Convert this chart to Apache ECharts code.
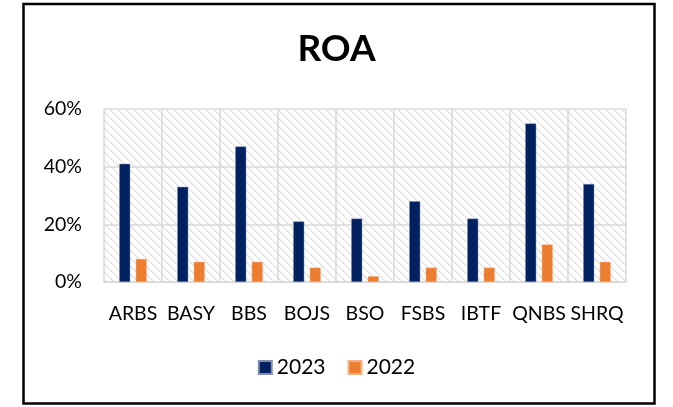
<!DOCTYPE html>
<html>
<head>
<meta charset="utf-8">
<script src="https://cdn.jsdelivr.net/npm/echarts@6/dist/echarts.min.js"></script>
<style>
  html, body { margin: 0; padding: 0; background: #fff; }
  #chart { width: 673px; height: 407px; }
</style>
</head>
<body>
<div id="chart"></div>
<script>
// Return on assets by bank, 2023 vs 2022 (percent)
const banks = ['ARBS', 'BASY', 'BBS', 'BOJS', 'BSO', 'FSBS', 'IBTF', 'QNBS', 'SHRQ'];
const roa2023 = [41, 33, 47, 21, 22, 28, 22, 55, 34];
const roa2022 = [8, 7, 7, 5, 2, 5, 5, 13, 7];
const yTicks = [0, 20, 40, 60];

// Light grey downward-diagonal hatch for the plot area
function hatchTile() {
  const c = document.createElement('canvas');
  c.width = 8; c.height = 8;
  const ctx = c.getContext('2d');
  ctx.fillStyle = '#ffffff';
  ctx.fillRect(0, 0, 8, 8);
  for (let i = 0; i < 8; i++) {
    ctx.fillStyle = i % 2 ? '#d8d8d8' : '#e4e4e4';
    ctx.fillRect(i, i, 1, 1);
    ctx.fillStyle = '#eeeeee';
    ctx.fillRect((i + 1) % 8, i, 1, 1);
  }
  return c;
}

const FONT = 'Lato, "Open Sans", sans-serif';
const chart = echarts.init(document.getElementById('chart'));
chart.setOption({
  animation: false,
  backgroundColor: '#ffffff',
  title: {
    text: 'ROA',
    left: 'center',
    top: 26,
    textStyle: { fontFamily: FONT, fontWeight: 'bold', fontSize: 37, color: '#000' }
  },
  grid: {
    left: 104, right: 47, top: 109, bottom: 125,
    show: true,
    backgroundColor: { image: hatchTile(), repeat: 'repeat' },
    borderWidth: 0
  },
  legend: {
    data: ['2023', '2022'],
    bottom: 24,
    left: 'center',
    icon: 'rect',
    itemWidth: 13,
    itemHeight: 13,
    itemGap: 22,
    textStyle: { fontFamily: FONT, fontSize: 21, color: '#000' }
  },
  xAxis: {
    type: 'category',
    data: banks,
    axisLine: { show: true, lineStyle: { color: '#d9d9d9', width: 1.5 } },
    axisTick: { show: false },
    splitLine: { show: true, lineStyle: { color: '#d9d9d9', width: 1.5 } },
    axisLabel: { fontFamily: FONT, fontSize: 19.5, color: '#000', margin: 22, interval: 0 }
  },
  yAxis: {
    type: 'value',
    min: yTicks[0],
    max: yTicks[yTicks.length - 1],
    interval: yTicks[1] - yTicks[0],
    axisLine: { show: false },
    axisTick: { show: false },
    splitLine: { show: true, lineStyle: { color: '#d9d9d9', width: 1.5 } },
    axisLabel: { formatter: '{value}%', fontFamily: FONT, fontSize: 19.5, color: '#000', margin: 22 }
  },
  series: [
    {
      name: '2023', type: 'bar', data: roa2023,
      barWidth: 11, barGap: '50%',
      itemStyle: { color: '#002060', borderColor: '#8090b0', borderWidth: 0.5 }
    },
    {
      name: '2022', type: 'bar', data: roa2022,
      barWidth: 11,
      itemStyle: { color: '#ed7d31', borderColor: '#f4b183', borderWidth: 0.5 }
    }
  ],
  graphic: [{
    type: 'rect',
    shape: { x: 23.5, y: 4, width: 631, height: 399.5 },
    style: { fill: 'none', stroke: '#000', lineWidth: 2.5 },
    silent: true
  }]
});
</script>
</body>
</html>
